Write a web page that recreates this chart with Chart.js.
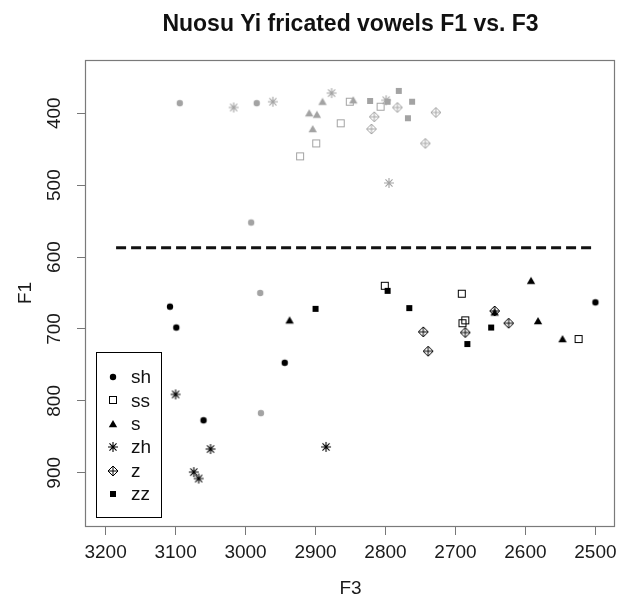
<!DOCTYPE html>
<html><head><meta charset="utf-8">
<script src="https://cdn.jsdelivr.net/npm/chart.js@4/dist/chart.umd.min.js"></script>
<style>html,body{margin:0;padding:0;background:#fff}canvas{display:block}</style>
</head><body>
<canvas id="c" width="629" height="595"></canvas>
<script>
const FONT = '"Liberation Sans", Arial, Helvetica, sans-serif';
const chartTitle = 'Nuosu Yi fricated vowels F1 vs. F3';
const xTitle = 'F3';
const yTitle = 'F1';
const categories = ['sh', 'ss', 's', 'zh', 'z', 'zz'];
const xTicks = [3200, 3100, 3000, 2900, 2800, 2700, 2600, 2500];
const yTicks = [400, 500, 600, 700, 800, 900];

// lower group (black symbols): F3 values and F1 values
const shF3 = [3108, 3099, 2944, 3060, 2500];
const shF1 = [669, 698, 747, 827, 663];
const ssF3 = [2801, 2691, 2686, 2690, 2524];
const ssF1 = [640, 651, 688, 692, 714];
const sF3 = [2937, 2592, 2582, 2547, 2644];
const sF1 = [688, 633, 689, 714, 677];
const zhF3 = [3100, 3050, 2885, 3074, 3067];
const zhF1 = [791, 867, 864, 899, 908];
const zF3 = [2746, 2739, 2686, 2644, 2624];
const zF1 = [704, 731, 705, 675, 692];
const zzF3 = [2900, 2797, 2766, 2649, 2683];
const zzF1 = [672, 647, 671, 698, 721];

// upper group (grey symbols)
const shGreyF3 = [3094, 2984, 2992, 2979, 2978];
const shGreyF1 = [386, 386, 552, 650, 817];
const ssGreyF3 = [2851, 2864, 2899, 2922, 2807];
const ssGreyF1 = [384, 414, 442, 460, 391];
const sGreyF3 = [2909, 2898, 2890, 2904, 2846];
const sGreyF1 = [400, 402, 384, 422, 382];
const zhGreyF3 = [3017, 2961, 2877, 2799, 2795];
const zhGreyF1 = [392, 384, 372, 382, 497];
const zGreyF3 = [2783, 2816, 2820, 2728, 2743];
const zGreyF1 = [392, 405, 422, 399, 442];
const zzGreyF3 = [2822, 2797, 2781, 2762, 2768];
const zzGreyF1 = [383, 384, 369, 384, 407];

// dashed divider
const dividerF3 = [3185, 2502];
const dividerF1 = 587;

const BLACK = '#000000';
const GREY = '#a3a3a3';
const symbolKinds = {sh: 'circle', ss: 'openSquare', s: 'triangle', zh: 'asterisk', z: 'diamondPlus', zz: 'square'};

function makeSymbol(kind, color) {
  const S = 16, m = 8;
  const c = document.createElement('canvas');
  c.width = S; c.height = S;
  const g = c.getContext('2d');
  g.fillStyle = color; g.strokeStyle = color; g.lineWidth = 1;
  if (kind === 'circle') {
    g.beginPath(); g.arc(m, m, 3.2, 0, Math.PI * 2); g.fill();
  } else if (kind === 'openSquare') {
    g.strokeRect(m - 3.5, m - 3.5, 7, 7);
  } else if (kind === 'square') {
    g.fillRect(m - 3, m - 3, 6, 6);
  } else if (kind === 'triangle') {
    g.beginPath(); g.moveTo(m, m - 4); g.lineTo(m + 4.2, m + 3.2); g.lineTo(m - 4.2, m + 3.2); g.closePath(); g.fill();
  } else if (kind === 'asterisk') {
    const r = 5, d = r * Math.SQRT1_2;
    g.lineWidth = 1.1;
    g.beginPath();
    g.moveTo(m - r, m); g.lineTo(m + r, m);
    g.moveTo(m, m - r); g.lineTo(m, m + r);
    g.moveTo(m - d, m - d); g.lineTo(m + d, m + d);
    g.moveTo(m - d, m + d); g.lineTo(m + d, m - d);
    g.stroke();
  } else if (kind === 'diamondPlus') {
    const r = 5;
    g.beginPath();
    g.moveTo(m, m - r); g.lineTo(m + r, m); g.lineTo(m, m + r); g.lineTo(m - r, m); g.closePath();
    g.moveTo(m - r, m); g.lineTo(m + r, m);
    g.moveTo(m, m - r); g.lineTo(m, m + r);
    g.stroke();
  }
  return c;
}

function pts(xs, ys) { return xs.map((x, i) => ({x: x, y: ys[i]})); }

const lowerData = {sh: [shF3, shF1], ss: [ssF3, ssF1], s: [sF3, sF1], zh: [zhF3, zhF1], z: [zF3, zF1], zz: [zzF3, zzF1]};
const upperData = {sh: [shGreyF3, shGreyF1], ss: [ssGreyF3, ssGreyF1], s: [sGreyF3, sGreyF1], zh: [zhGreyF3, zhGreyF1], z: [zGreyF3, zGreyF1], zz: [zzGreyF3, zzGreyF1]};

const datasets = [];
categories.forEach(cat => {
  const img = makeSymbol(symbolKinds[cat], GREY);
  datasets.push({label: cat + ' (upper)', legendHidden: true, data: pts(upperData[cat][0], upperData[cat][1]),
    pointStyle: img, pointRadius: 5, showLine: false});
});
datasets.push({label: 'divider', legendHidden: true, data: dividerF3.map(x => ({x: x, y: dividerF1})),
  showLine: true, borderColor: '#111', borderWidth: 3, borderDash: [10, 5], pointRadius: 0, fill: false});
categories.forEach(cat => {
  const img = makeSymbol(symbolKinds[cat], BLACK);
  datasets.push({label: cat, data: pts(lowerData[cat][0], lowerData[cat][1]),
    pointStyle: img, pointRadius: 5, showLine: false, symbol: img});
});

const framePlugin = {
  id: 'frame',
  beforeDatasetsDraw(chart) {
    const a = chart.chartArea, ctx = chart.ctx;
    ctx.save();
    ctx.strokeStyle = '#7a7a7a'; ctx.lineWidth = 1.2;
    ctx.strokeRect(a.left - 0.5, a.top + 0.5, a.right - a.left, a.bottom - a.top);
    ctx.restore();
  }
};

const titlePlugin = {
  id: 'mainTitle',
  afterDraw(chart) {
    const a = chart.chartArea, ctx = chart.ctx;
    ctx.save();
    ctx.font = 'bold 23px ' + FONT;
    ctx.fillStyle = '#111';
    ctx.textAlign = 'center'; ctx.textBaseline = 'alphabetic';
    ctx.fillText(chartTitle, (a.left + a.right) / 2, 31);
    ctx.restore();
  }
};

const legendPlugin = {
  id: 'boxLegend',
  afterDraw(chart) {
    const ctx = chart.ctx;
    const items = chart.data.datasets.filter(d => !d.legendHidden);
    const left = 96, top = 352, w = 65, rowH = 23.4, firstRow = 377;
    const h = 165;
    ctx.save();
    ctx.fillStyle = '#fff';
    ctx.fillRect(left, top, w, h);
    ctx.strokeStyle = '#000'; ctx.lineWidth = 1;
    ctx.strokeRect(left + 0.5, top + 0.5, w, h);
    ctx.font = '19px ' + FONT;
    ctx.fillStyle = '#111';
    ctx.textAlign = 'left'; ctx.textBaseline = 'middle';
    items.forEach((d, i) => {
      const y = firstRow + i * rowH;
      ctx.drawImage(d.symbol, 113 - 8, Math.round(y) - 8);
      ctx.fillText(d.label, 131, y + 1);
    });
    ctx.restore();
  }
};

new Chart(document.getElementById('c'), {
  type: 'scatter',
  data: {datasets: datasets},
  options: {
    responsive: false,
    animation: false,
    devicePixelRatio: 1,
    layout: {padding: {left: 0, right: 14, top: 60, bottom: 0}},
    plugins: {legend: {display: false}, tooltip: {enabled: false}, title: {display: false}},
    scales: {
      x: {
        type: 'linear', position: 'bottom', reverse: true, min: 2472, max: 3228,
        afterBuildTicks: s => { s.ticks = xTicks.map(v => ({value: v})); },
        afterFit: s => { s.height = 69; },
        grid: {drawOnChartArea: false, drawTicks: true, tickLength: 9, color: '#777', lineWidth: 1},
        border: {display: false},
        ticks: {font: {family: FONT, size: 19}, color: '#1a1a1a', padding: 6, maxRotation: 0, autoSkip: false,
          callback: v => String(v)},
        title: {display: true, text: xTitle, font: {family: FONT, size: 19, lineHeight: 1}, color: '#1a1a1a',
          padding: {top: 0, bottom: -3}}
      },
      y: {
        type: 'linear', position: 'left', reverse: true, min: 326, max: 974,
        afterBuildTicks: s => { s.ticks = yTicks.map(v => ({value: v})); },
        afterFit: s => { s.width = 86; },
        grid: {drawOnChartArea: false, drawTicks: true, tickLength: 9, color: '#777', lineWidth: 1},
        border: {display: false},
        ticks: {font: {family: FONT, size: 19}, color: '#1a1a1a', padding: 6, minRotation: 90, maxRotation: 90,
          crossAlign: 'center', autoSkip: false, callback: v => String(v)},
        title: {display: true, text: yTitle, font: {family: FONT, size: 19, lineHeight: 1}, color: '#1a1a1a',
          padding: {top: 16, bottom: 0}}
      }
    }
  },
  plugins: [framePlugin, titlePlugin, legendPlugin]
});
</script>
</body></html>
